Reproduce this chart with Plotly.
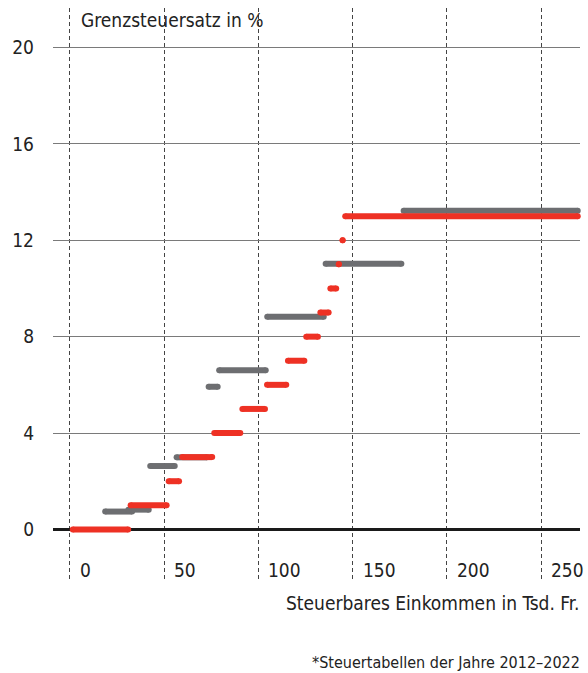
import plotly.graph_objects as go

# ---- data ----
red_start = [1.5, 32.2, 52.4, 59.6, 76.6, 91.5, 104.6, 115.7, 125.4, 132.9, 138.2, 142.7, 144.7, 146.1]
red_end   = [30.9, 51.3, 57.9, 75.5, 90.4, 103.5, 114.8, 124.4, 131.6, 137.3, 141.3, 142.7, 144.7, 269.5]
red_rate  = [0, 1, 2, 3, 4, 5, 6, 7, 8, 9, 10, 11, 12, 13]

gray_start = [18.7, 31.0, 42.6, 56.6, 73.6, 79.2, 104.7, 135.7, 177.1]
gray_end   = [33.0, 41.8, 55.6, 72.7, 78.4, 103.9, 134.7, 175.9, 269.5]
gray_rate  = [0.74, 0.82, 2.63, 2.99, 5.92, 6.61, 8.83, 11.03, 13.23]

x_ticks = [0, 50, 100, 150, 200, 250]
y_ticks = [0, 4, 8, 12, 16, 20]

y_title = "Grenzsteuersatz in %"
x_title = "Steuerbares Einkommen in Tsd. Fr."
footnote = "*Steuertabellen der Jahre 2012–2022"

RED = "#ee3124"
GRAY = "#6d6e71"
FONT = "DejaVu Sans Condensed, Liberation Sans Narrow, Roboto, sans-serif"


def seg_xy(starts, ends, rates):
    xs, ys = [], []
    for a, b, r in zip(starts, ends, rates):
        xs += [a, b, None]
        ys += [r, r, None]
    return xs, ys


fig = go.Figure()
for starts, ends, rates, col in [(gray_start, gray_end, gray_rate, GRAY),
                                 (red_start, red_end, red_rate, RED)]:
    xs, ys = seg_xy(starts, ends, rates)
    fig.add_trace(go.Scatter(
        x=xs, y=ys, mode="lines+markers",
        line=dict(color=col, width=6),
        marker=dict(color=col, size=6, line=dict(width=0)),
        cliponaxis=False, hoverinfo="skip", showlegend=False))

annotations = []
for t in x_ticks:
    annotations.append(dict(x=t, y=-1.69, xref="x", yref="y", text=str(t),
                            showarrow=False, xanchor="left", yanchor="middle",
                            xshift=8, font=dict(size=19, color="#222")))
annotations.append(dict(x=0, y=21.14, xref="x", yref="y", text=y_title,
                        showarrow=False, xanchor="left", yanchor="middle",
                        xshift=9, font=dict(size=19, color="#222")))
annotations.append(dict(x=1, y=-0.0402, xref="paper", yref="paper", text=x_title,
                        showarrow=False, xanchor="right", yanchor="middle",
                        xshift=1, font=dict(size=19, color="#222")))
annotations.append(dict(x=1, y=-0.1434, xref="paper", yref="paper", text=footnote,
                        showarrow=False, xanchor="right", yanchor="middle",
                        xshift=2, font=dict(size=16, color="#222")))

fig.update_layout(
    width=588, height=673,
    margin=dict(l=53, r=8, t=8, b=93),
    paper_bgcolor="white", plot_bgcolor="white",
    font=dict(family=FONT, size=19, color="#222"),
    xaxis=dict(range=[-9.0, 270.7], tickvals=x_ticks, showticklabels=False,
               showgrid=True, gridcolor="#444", gridwidth=1, griddash="4px,3px",
               zeroline=False, showline=False, ticks=""),
    yaxis=dict(range=[-2.10, 21.64], tickvals=y_ticks, ticks="",
               showgrid=True, gridcolor="#7a7a7a", gridwidth=1,
               zeroline=True, zerolinecolor="#1a1a1a", zerolinewidth=2.5,
               showline=False, ticklabelstandoff=18,
               tickfont=dict(size=19, color="#222")),
    annotations=annotations,
)

fig.write_html("out.html", config={"displayModeBar": False},
               post_script="document.body.style.margin='0';document.body.style.overflow='hidden';")
